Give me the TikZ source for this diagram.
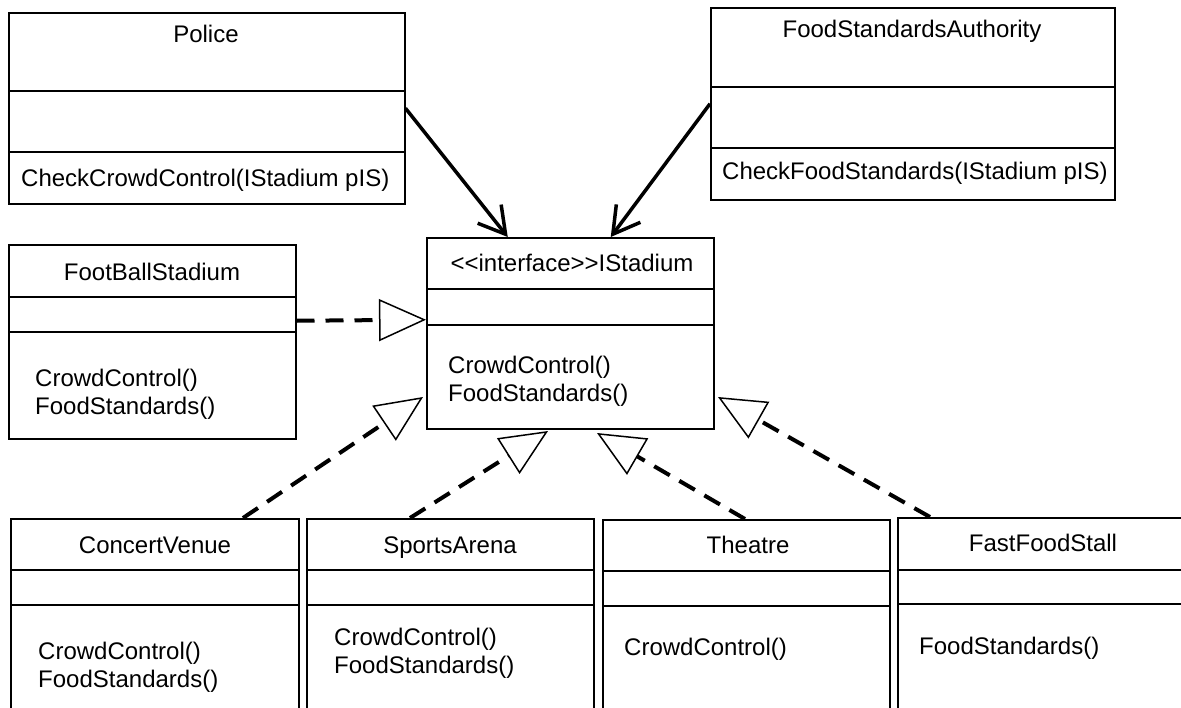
\documentclass[tikz,border=0pt]{standalone}
\usepackage{fontspec}
\setmainfont{Liberation Sans}
\usetikzlibrary{arrows.meta}

\begin{document}
\begin{tikzpicture}[x=1pt, y=-1pt,
  classbox/.style={draw, line width=1.5pt, anchor=north west, inner sep=0pt},
  divider/.style={line width=2.5pt},
  title/.style={font=\fontsize{24}{28}\selectfont, inner sep=0pt, text height=17pt, text depth=5pt},
  ops/.style={font=\fontsize{24}{28}\selectfont, align=left, anchor=west, inner sep=0pt},
  uses/.style={line width=3.5pt, -{Straight Barb[length=26pt, width=30pt]}},
  realizes/.style={line width=4pt, dash pattern=on 18pt off 11pt,
    -{Triangle[open, length=47pt, width=42pt, line width=1.5pt]}}]
  \clip (0,0) rectangle (1181,707);
  \fill[white] (0,0) rectangle (1181,707);
  % Police
  \node[classbox, minimum width=396pt, minimum height=191pt] (police) at (8,12) {};
  \draw[divider] (8,91) -- (404,91);
  \draw[divider] (8,152) -- (404,152);
  \node[title] (policename) at (206,36) {Police};
  \node[ops] (policeops) at (21,180) {CheckCrowdControl(IStadium pIS)};
  % FoodStandardsAuthority
  \node[classbox, minimum width=404pt, minimum height=192pt] (fsa) at (710,7) {};
  \draw[divider] (710,87) -- (1114,87);
  \draw[divider] (710,148) -- (1114,148);
  \node[title] (fsaname) at (912,31) {FoodStandardsAuthority};
  \node[ops] (fsaops) at (722,173) {CheckFoodStandards(IStadium pIS)};
  % FootBallStadium
  \node[classbox, minimum width=287pt, minimum height=194pt] (football) at (8,244) {};
  \draw[divider] (8,297) -- (295,297);
  \draw[divider] (8,332) -- (295,332);
  \node[title] (footballname) at (152,274) {FootBallStadium};
  \node[ops] (footballops) at (35,394) {CrowdControl()\\FoodStandards()};
  % interface IStadium
  \node[classbox, minimum width=287pt, minimum height=191pt] (istadium) at (426,237) {};
  \draw[divider] (426,289) -- (713,289);
  \draw[divider] (426,325) -- (713,325);
  \node[title] (istadiumname) at (572,265) {<{}<interface>{}>IStadium};
  \node[ops] (istadiumops) at (448,381) {CrowdControl()\\FoodStandards()};
  % Bottom row (cut off by the page edge)
  \node[classbox, minimum width=288pt, minimum height=220pt] (concert) at (10,518) {};
  \draw[divider] (10,570) -- (298,570);
  \draw[divider] (10,605) -- (298,605);
  \node[title] (concertname) at (155,547) {ConcertVenue};
  \node[ops] (concertops) at (38,667) {CrowdControl()\\FoodStandards()};
  \node[classbox, minimum width=287pt, minimum height=220pt] (arena) at (306,518) {};
  \draw[divider] (306,570) -- (593,570);
  \draw[divider] (306,605) -- (593,605);
  \node[title] (arenaname) at (450,547) {SportsArena};
  \node[ops] (arenaops) at (334,653) {CrowdControl()\\FoodStandards()};
  \node[classbox, minimum width=287pt, minimum height=220pt] (theatre) at (602,519) {};
  \draw[divider] (602,571) -- (889,571);
  \draw[divider] (602,606) -- (889,606);
  \node[title] (theatrename) at (748,547) {Theatre};
  \node[ops] (theatreops) at (624,649) {CrowdControl()};
  \node[classbox, minimum width=300pt, minimum height=220pt] (stall) at (897,517) {};
  \draw[divider] (897,570) -- (1181,570);
  \draw[divider] (897,604) -- (1181,604);
  \node[title] (stallname) at (1043,545) {FastFoodStall};
  \node[ops] (stallops) at (919,648) {FoodStandards()};
  % Tips of the realisation arrows
  \coordinate (tipconcert) at (423,397);
  \coordinate (tiparena) at (548,431);
  \coordinate (tiptheatre) at (597,433);
  \coordinate (tipstall) at (718,397);
  % Dependencies
  \draw[uses] (police.east) -- ([xshift=-62.5pt]istadium.north);
  \draw[uses] (fsa.west) -- ([xshift=40.5pt]istadium.north);
  % Realisations
  \draw[realizes] ([yshift=21pt]football.east) -- ([yshift=13.5pt]istadium.west);
  \draw[realizes] ([xshift=233pt]concert.north west) -- (tipconcert);
  \draw[realizes] ([xshift=104pt]arena.north west) -- (tiparena);
  \draw[realizes] ([xshift=143pt]theatre.north west) -- (tiptheatre);
  \draw[realizes] ([xshift=33pt]stall.north west) -- (tipstall);
\end{tikzpicture}
\end{document}
